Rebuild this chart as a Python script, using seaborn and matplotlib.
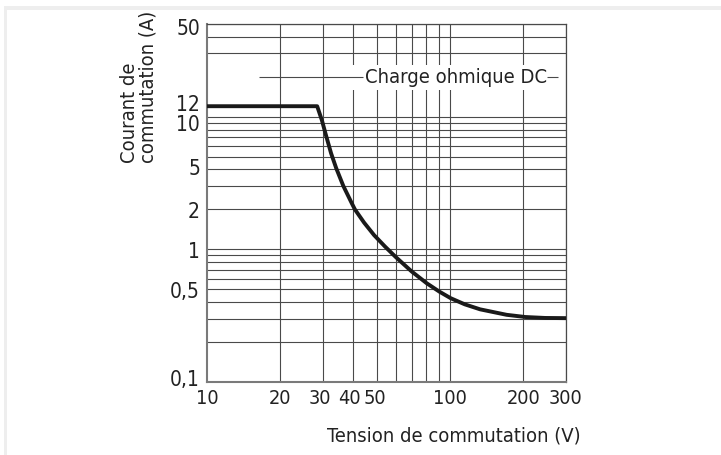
import matplotlib
matplotlib.use("Agg")
import matplotlib.pyplot as plt
from matplotlib.patches import Rectangle
from matplotlib.ticker import FixedLocator, FixedFormatter, NullFormatter
from matplotlib import font_manager as fm
from matplotlib.transforms import ScaledTranslation
import seaborn as sns
import pandas as pd

# ---- data ----
voltage = [10, 28.4, 29.7, 30.9, 32.4, 34, 36.4, 39.4, 40.6, 44.3, 48.7, 54, 60,
           69.6, 80.2, 90.4, 100.7, 115, 133, 171, 204, 246, 300]
current = [12, 12, 9.4, 7.2, 5.3, 4.1, 3.0, 2.23, 2.0, 1.59, 1.28, 1.05, 0.87,
           0.68, 0.555, 0.48, 0.428, 0.385, 0.353, 0.321, 0.309, 0.304, 0.303]

x_tick_values = [10, 20, 30, 40, 50, 100, 200, 300]
x_tick_labels = ["10", "20", "30", "40", "50", "100", "200", "300"]
y_tick_values = [0.1, 0.5, 1, 2, 5, 10, 12, 50]
y_tick_labels = ["0,1", "0,5", "1", "2", "5", "10", "12", "50"]
x_grid_values = [20, 30, 40, 50, 60, 70, 80, 90, 100, 200, 300]
y_grid_values = [0.2, 0.3, 0.4, 0.5, 0.6, 0.7, 0.8, 0.9, 1, 2, 3, 4, 5, 6, 7, 8, 9, 10, 30, 40, 50]

curve_label = "Charge ohmique DC"
x_label = "Tension de commutation (V)"
y_label = "Courant de\ncommutation (A)"

df = pd.DataFrame({"V": voltage, "I": current})

sns.set_theme(style="white")


def find_font():
    tries = [("Liberation Sans Narrow", "normal", 17, 16.5, 17),
             ("DejaVu Sans", "condensed", 15, 14.3, 14.5),
             ("Roboto Condensed", "normal", 16.5, 16, 16),
             ("Liberation Sans", "normal", 15, 14.5, 14.3)]
    for fam, stretch, ytick_fs, xtick_fs, lab_fs in tries:
        try:
            path = fm.findfont(fm.FontProperties(family=fam, stretch=stretch),
                               fallback_to_default=False)
        except Exception:
            continue
        name = path.lower()
        if stretch == "condensed" and "condensed" not in name:
            continue
        if "narrow" in fam.lower() and "narrow" not in name:
            continue
        if "condensed" in fam.lower() and "condensed" not in name:
            continue
        return fam, stretch, ytick_fs, xtick_fs, lab_fs
    return "DejaVu Sans", "normal", 13, 12.5, 12.5


FAM, STRETCH, YTICK_FS, XTICK_FS, LAB_FS = find_font()
plt.rcParams["font.family"] = [FAM, "DejaVu Sans"]
plt.rcParams["font.stretch"] = STRETCH

W, H = 721, 456
fig = plt.figure(figsize=(W / 100, H / 100), dpi=100)
fig.patch.set_facecolor("white")
ax = fig.add_axes([207 / W, 1 - 383 / H, 359 / W, 358 / H])
ax.set_facecolor("white")

sns.lineplot(data=df, x="V", y="I", ax=ax, color="#1a1a1a", linewidth=2.8,
             zorder=4, sort=False, estimator=None)
for ln in ax.get_lines():
    ln.set_solid_joinstyle("round")
    ln.set_solid_capstyle("butt")

ax.set_xscale("log")
ax.set_yscale("log")
ax.set_xlim(10, 300)
ax.set_ylim(0.1, 50)

grid_color = "#4a4a4a"
text_color = "#222222"
ax.xaxis.remove_overlapping_locs = False
ax.yaxis.remove_overlapping_locs = False
ax.xaxis.set_major_locator(FixedLocator(x_tick_values))
ax.xaxis.set_major_formatter(FixedFormatter(x_tick_labels))
ax.yaxis.set_major_locator(FixedLocator(y_tick_values))
ax.yaxis.set_major_formatter(FixedFormatter(y_tick_labels))
ax.xaxis.set_minor_locator(FixedLocator(x_grid_values))
ax.yaxis.set_minor_locator(FixedLocator(y_grid_values))
ax.xaxis.set_minor_formatter(NullFormatter())
ax.yaxis.set_minor_formatter(NullFormatter())
ax.grid(False, which="major")
ax.grid(True, which="minor", color=grid_color, linewidth=0.8)
ax.set_axisbelow(True)

ax.tick_params(which="both", length=0)
ax.tick_params(axis="y", which="major", labelsize=YTICK_FS, colors=text_color, pad=5)
ax.tick_params(axis="x", which="major", labelsize=XTICK_FS, colors=text_color, pad=4)

# gridline at 20 A interrupted by the curve label
ax.add_patch(Rectangle((38, 16), 287 - 38, 24.5 - 16, facecolor="white",
                       edgecolor="none", zorder=1.5))
ax.hlines(20, 16.4, 43.8, color=grid_color, linewidth=0.8, zorder=2)
ax.hlines(20, 250, 278, color=grid_color, linewidth=0.8, zorder=2)
ax.text(44.5, 20, curve_label, ha="left", va="center", fontsize=LAB_FS,
        color=text_color, zorder=5)

for s in ["left", "bottom"]:
    ax.spines[s].set_color("#7a7a7a")
    ax.spines[s].set_linewidth(1.5)
for s in ["top", "right"]:
    ax.spines[s].set_color(grid_color)
    ax.spines[s].set_linewidth(0.9)

ax.set_xlabel(x_label, fontsize=LAB_FS, color=text_color, ha="right", va="top")
ax.xaxis.set_label_coords(1.04, -0.122)
ax.set_ylabel("")
fig.text(139 / W, 1 - 163 / H, y_label, rotation=90, ha="center", va="bottom",
         multialignment="left", fontsize=LAB_FS, linespacing=0.95, color=text_color)

# small shifts of some tick labels, as in the reference
fig.canvas.draw()
y_shift = {"10": -5, "5": -9, "0,1": 5, "12": 4, "50": -2}
for tick in ax.yaxis.get_major_ticks():
    lab = tick.label1
    dy = y_shift.get(lab.get_text(), 0)
    if dy:
        lab.set_transform(lab.get_transform() + ScaledTranslation(0, dy / 100, fig.dpi_scale_trans))
x_shift = {"30": -3, "40": -4, "50": -2}
for tick in ax.xaxis.get_major_ticks():
    lab = tick.label1
    dx = x_shift.get(lab.get_text(), 0)
    if dx:
        lab.set_transform(lab.get_transform() + ScaledTranslation(dx / 100, 0, fig.dpi_scale_trans))

# faint frame strips of the reference image
fig.add_artist(Rectangle((4 / W, 1 - 10.5 / H), 1, 3.3 / H, transform=fig.transFigure,
                         facecolor="#eeeeee", edgecolor="none"))
fig.add_artist(Rectangle((4 / W, 0), 3.3 / W, 1 - 7.2 / H, transform=fig.transFigure,
                         facecolor="#eeeeee", edgecolor="none"))

fig.savefig("out.png", dpi=100)
